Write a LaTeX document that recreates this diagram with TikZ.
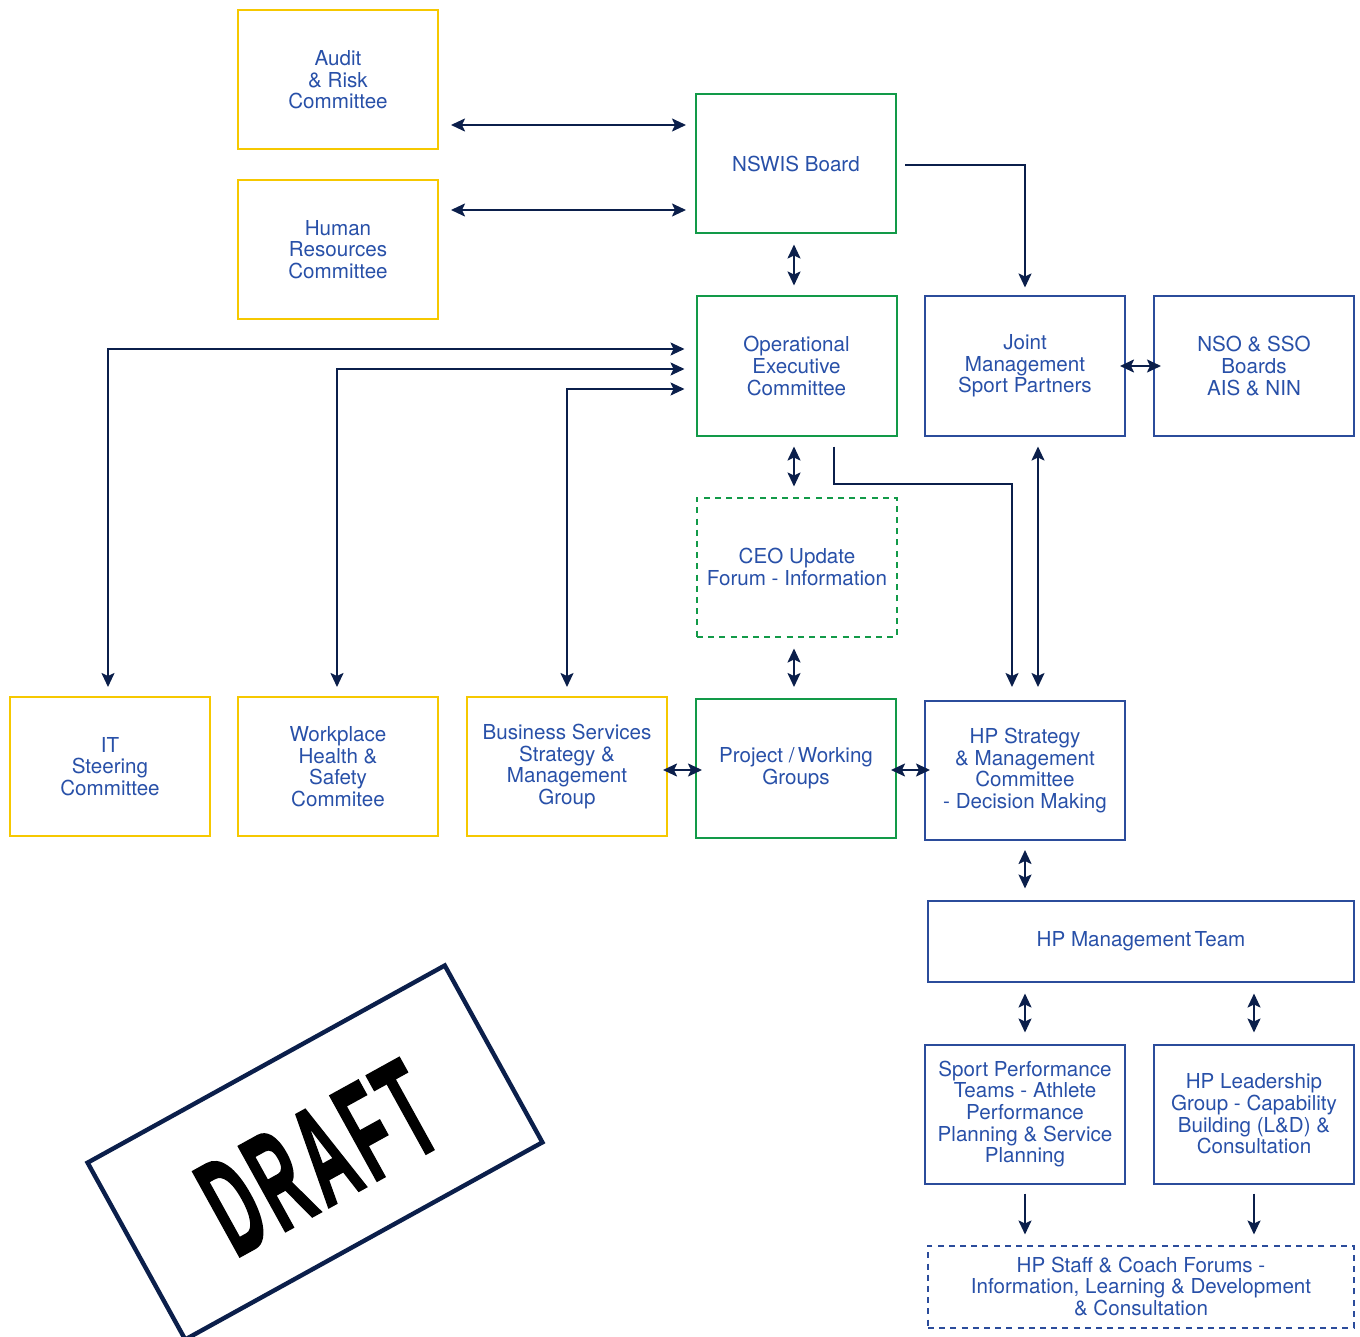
\documentclass[tikz,border=0pt]{standalone}
\usepackage{fontspec}
\setmainfont{TeX Gyre Heros}
\newfontfamily\draftfont{Liberation Sans Bold}[FakeBold=2,LetterSpace=9]
\usetikzlibrary{arrows.meta}
\definecolor{navy}{HTML}{0B1F4B}
\definecolor{boxblue}{HTML}{2B4C9B}
\definecolor{txtblue}{HTML}{2850A8}
\definecolor{grn}{HTML}{129A48}
\definecolor{yel}{HTML}{F6C800}
\tikzset{
  box/.style={draw, line width=1pt, minimum width=100pt, minimum height=69.5pt,
    align=center, text=txtblue, inner sep=0pt,
    font=\fontsize{10.3}{10.8}\selectfont},
  ybox/.style={box, draw=yel},
  gbox/.style={box, draw=grn},
  bbox/.style={box, draw=boxblue},
  dashbox/.style={dash pattern=on 3pt off 2.6pt},
  conn/.style={draw=navy, line width=1pt},
  one/.style={conn, -{Stealth[length=7pt,width=6.5pt,inset=1.5pt]}},
  both/.style={conn, {Stealth[length=7pt,width=6.5pt,inset=1.5pt]}-{Stealth[length=7pt,width=6.5pt,inset=1.5pt]}},
}
\begin{document}
\begin{tikzpicture}[x=0.5pt,y=-0.5pt]
\useasboundingbox (0,0) rectangle (1360,1337);
% boxes
\node[ybox] (audit) at (338,80) {Audit\\\& Risk\\Committee};
\node[ybox] (hr) at (338,249.5) {Human\\Resources\\Committee};
\node[gbox] (board) at (796,164) {NSWIS Board};
\node[gbox] (oec) at (796.5,366) {Operational\\Executive\\Committee};
\node[bbox] (joint) at (1025,366) {Joint\\Management\\Sport Partners};
\node[bbox] (nso) at (1254,366) {NSO \& SSO\\Boards\\AIS \& NIN};
\node[gbox, dashbox] (ceo) at (797,567) {CEO Update\\Forum - Information};
\node[ybox] (it) at (110,766.5) {IT\\Steering\\Committee};
\node[ybox] (whs) at (338,766.5) {Workplace\\Health \&\\Safety\\Commitee};
\node[ybox] (bss) at (567,766.5) {Business Services\\Strategy \&\\Management\\Group};
\node[gbox] (proj) at (796,768.5) {Project /\,Working\\Groups};
\node[bbox] (hps) at (1025,770.5) {HP Strategy\\\& Management\\Committee\\- Decision Making};
\node[bbox, minimum width=213pt, minimum height=40.5pt] (hpm) at (1141,941) {HP Management\,Team};
\node[bbox] (spt) at (1025,1114) {Sport Performance\\Teams - Athlete\\Performance\\Planning \& Service\\Planning};
\node[bbox] (hpl) at (1254,1114) {HP Leadership\\Group - Capability\\Building (L\&D) \&\\Consultation};
\node[bbox, dashbox, minimum width=213pt, minimum height=41pt] (staff) at (1141,1286.5) {HP Staff \& Coach Forums -\\Information, Learning \& Development\\\& Consultation};
% connectors
\draw[both, shorten <=6pt, shorten >=4.5pt] (audit.east |- 0,125) -- (board.west |- 0,125);
\draw[both, shorten <=6pt, shorten >=4.5pt] (hr.east |- 0,210) -- (board.west |- 0,210);
\draw[one, shorten <=4pt, shorten >=4pt] (board.east |- 0,165) -| (joint.north);
\draw[both, shorten <=5pt, shorten >=5pt] (794,0 |- board.south) -- (794,0 |- oec.north);
\draw[both, shorten <=5.5pt, shorten >=4.5pt] (oec.west |- 0,349) -| (108,0 |- it.north);
\draw[both, shorten <=5.5pt, shorten >=4.5pt] (oec.west |- 0,369) -| (337,0 |- whs.north);
\draw[both, shorten <=5.5pt, shorten >=4.5pt] (oec.west |- 0,389) -| (567,0 |- bss.north);
\draw[both, shorten <=5pt, shorten >=5pt] (794,0 |- oec.south) -- (794,0 |- ceo.north);
\draw[one, shorten <=5pt, shorten >=6.5pt] (834,0 |- oec.south) |- (1012,484) -- (1012,0 |- hps.north);
\draw[both, shorten <=5pt, shorten >=6.5pt] (1038,0 |- joint.south) -- (1038,0 |- hps.north);
\draw[both, shorten <=-3pt, shorten >=-4pt] (joint.east) -- (nso.west);
\draw[both, shorten <=5.5pt, shorten >=5.5pt] (794,0 |- ceo.south) -- (794,0 |- proj.north);
\draw[both, shorten <=-2.5pt, shorten >=-3.5pt] (bss.east |- 0,770) -- (proj.west |- 0,770);
\draw[both, shorten <=-3pt, shorten >=-3pt] (proj.east |- 0,770) -- (hps.west |- 0,770);
\draw[both, shorten <=4.5pt, shorten >=5.5pt] (hps.south) -- (hpm.north -| hps.south);
\draw[both, shorten <=5.5pt, shorten >=5.5pt] (spt.north |- hpm.south) -- (spt.north);
\draw[both, shorten <=5.5pt, shorten >=5.5pt] (hpl.north |- hpm.south) -- (hpl.north);
\draw[one, shorten <=4.5pt, shorten >=5pt] (spt.south) -- (spt.south |- staff.north);
\draw[one, shorten <=4.5pt, shorten >=5pt] (hpl.south) -- (hpl.south |- staff.north);
% draft stamp
\node[draw=navy, line width=2.2pt, rotate=28.9, minimum width=204pt, minimum height=101pt, inner sep=0pt] (stamp) at (315,1152.5) {};
\node[rotate=28.9, inner sep=0pt] (draftword) at (318,1158) {\scalebox{0.46}[1]{\draftfont\fontsize{70}{70}\selectfont DRAFT}};
\end{tikzpicture}
\end{document}
